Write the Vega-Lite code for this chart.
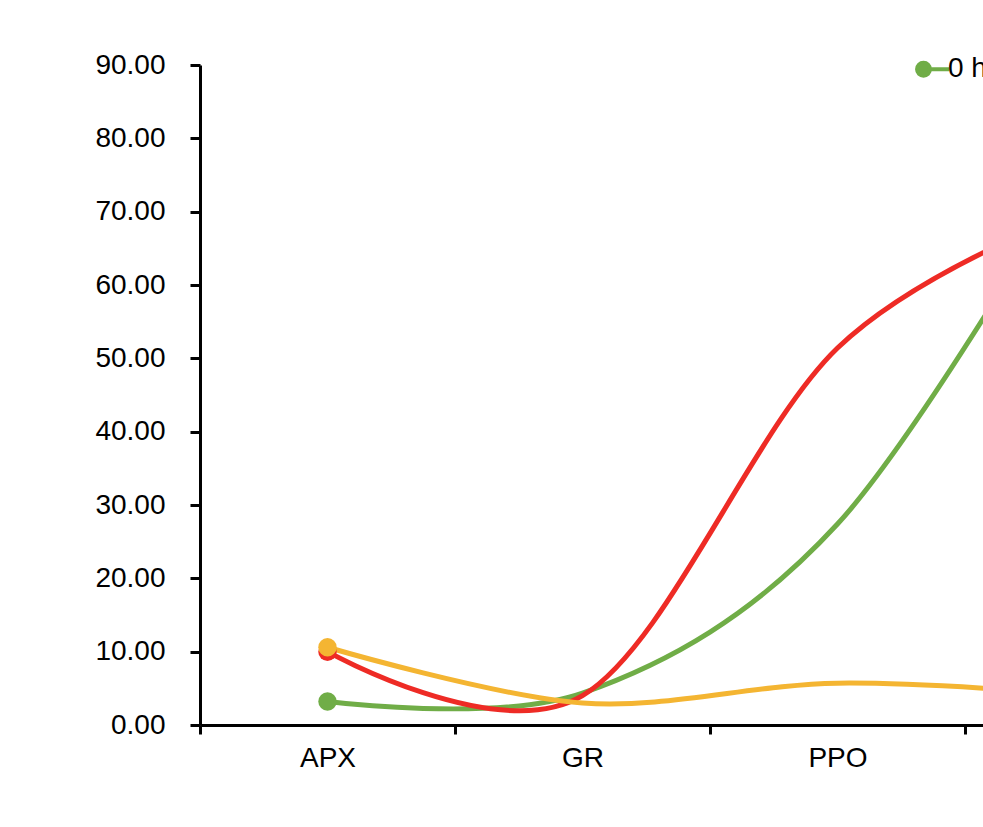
{
  "$schema": "https://vega.github.io/schema/vega-lite/v6.json",
  "autosize": {"type": "none"},
  "padding": {"left": 200, "top": 65, "right": -237, "bottom": 102},
  "width": 1020,
  "height": 660,
  "background": "white",
  "config": {
    "view": {"stroke": null},
    "font": "Liberation Sans"
  },
  "data": {
    "values": [
      {"enzyme": "APX", "time": "0 h", "activity": 3.2},
      {"enzyme": "GR", "time": "0 h", "activity": 4.35},
      {"enzyme": "PPO", "time": "0 h", "activity": 27.4},
      {"enzyme": "SOD", "time": "0 h", "activity": 79.9},
      {"enzyme": "APX", "time": "12 h", "activity": 10.0},
      {"enzyme": "GR", "time": "12 h", "activity": 4.0},
      {"enzyme": "PPO", "time": "12 h", "activity": 51.4},
      {"enzyme": "SOD", "time": "12 h", "activity": 70.9},
      {"enzyme": "APX", "time": "24 h", "activity": 10.6},
      {"enzyme": "GR", "time": "24 h", "activity": 3.0},
      {"enzyme": "PPO", "time": "24 h", "activity": 5.7},
      {"enzyme": "SOD", "time": "24 h", "activity": 4.0}
    ]
  },
  "encoding": {
    "x": {
      "field": "enzyme",
      "type": "nominal",
      "sort": ["APX", "GR", "PPO", "SOD"],
      "scale": {"paddingInner": 0, "paddingOuter": 0},
      "axis": {
        "title": null,
        "tickBand": "extent",
        "labelAngle": 0,
        "labelFont": "Liberation Sans",
        "labelFontSize": 28,
        "labelColor": "#000000",
        "labelPadding": 10,
        "domainColor": "#000000",
        "domainWidth": 3,
        "tickColor": "#000000",
        "tickWidth": 3,
        "tickSize": 9,
        "grid": false
      }
    },
    "y": {
      "field": "activity",
      "type": "quantitative",
      "scale": {"domain": [0, 90], "nice": false, "zero": true},
      "axis": {
        "title": null,
        "values": [0, 10, 20, 30, 40, 50, 60, 70, 80, 90],
        "format": ".2f",
        "labelFont": "Liberation Sans",
        "labelFontSize": 28,
        "labelColor": "#000000",
        "labelPadding": 25,
        "domainColor": "#000000",
        "domainWidth": 3,
        "tickColor": "#000000",
        "tickWidth": 3,
        "tickSize": 10,
        "grid": false
      }
    },
    "color": {
      "field": "time",
      "type": "nominal",
      "scale": {
        "domain": ["0 h", "12 h", "24 h"],
        "range": ["#70AD47", "#EE2B25", "#F4B532"]
      },
      "legend": {
        "title": null,
        "orient": "none",
        "legendX": 713,
        "legendY": -15,
        "direction": "horizontal",
        "padding": 0,
        "columnPadding": 30,
        "symbolType": "M -0.88 0 A 0.38 0.38 0 1 0 -0.12 0 A 0.38 0.38 0 1 0 -0.88 0 Z M -0.12 0 L 1 0",
        "symbolSize": 1156,
        "labelOffset": -3,
        "labelFont": "Liberation Sans",
        "labelFontSize": 28,
        "labelColor": "#000000",
        "encode": {
          "symbols": {
            "update": {
              "fill": {"scale": "color", "field": "value"},
              "stroke": {"scale": "color", "field": "value"},
              "strokeWidth": {"value": 4},
              "opacity": {"value": 1}
            }
          }
        }
      }
    }
  },
  "layer": [
    {
      "mark": {"type": "line", "interpolate": "cardinal", "strokeWidth": 5, "clip": false}
    },
    {
      "transform": [{"filter": "datum.enzyme === 'APX'"}],
      "mark": {"type": "point", "shape": "circle", "filled": true, "size": 340, "opacity": 1}
    }
  ]
}
